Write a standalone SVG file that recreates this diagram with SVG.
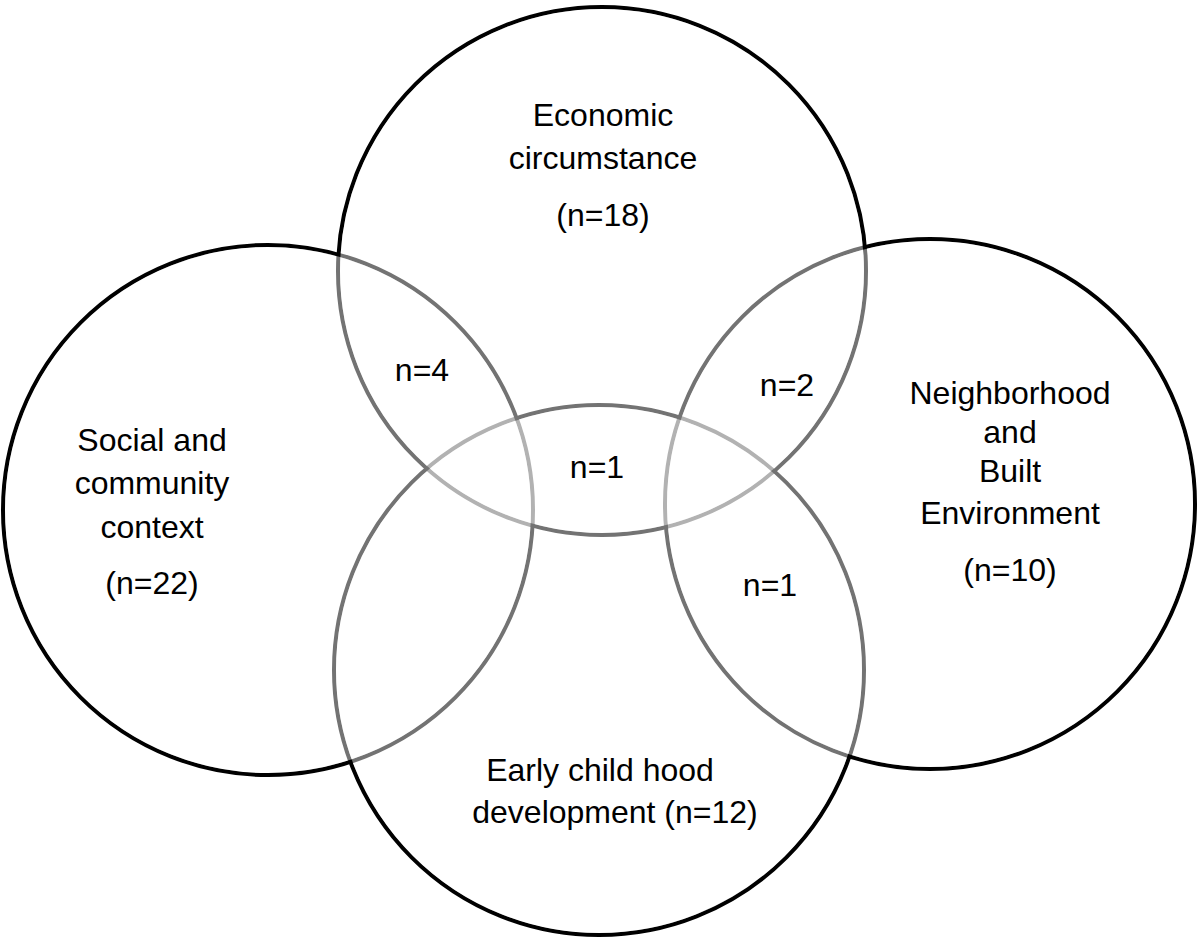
<svg xmlns="http://www.w3.org/2000/svg" width="1200" height="943" viewBox="0 0 1200 943">
<style>
.c{fill:none;stroke:#000;stroke-width:4}
.w{fill:#fff;fill-opacity:0.45;stroke:none}
text{font-family:"Liberation Sans",Arial,sans-serif;font-size:32px;fill:#000;text-anchor:middle}
</style>
<rect width="1200" height="943" fill="#fff"/>
<g id="connectors"></g>
<g id="strokes">
<circle class="c" cx="602" cy="271" r="264"/>
<circle class="c" cx="268" cy="510" r="265"/>
<circle class="c" cx="930" cy="504" r="265"/>
<circle class="c" cx="599" cy="670" r="265"/>
</g>
<g id="overlays">
<circle class="w" cx="602" cy="271" r="262"/>
<circle class="w" cx="268" cy="510" r="263"/>
<circle class="w" cx="930" cy="504" r="263"/>
<circle class="w" cx="599" cy="670" r="263"/>
</g>
<g id="economic"><text x="603" y="126">Economic</text><text x="603" y="169">circumstance</text><text x="603" y="226">(n=18)</text></g>
<g id="social"><text x="152" y="451">Social and</text><text x="152" y="494">community</text><text x="152" y="538">context</text><text x="152" y="594">(n=22)</text></g>
<g id="neighborhood"><text x="1010" y="404">Neighborhood</text><text x="1010" y="443">and</text><text x="1010" y="482">Built</text><text x="1010" y="524">Environment</text><text x="1010" y="581">(n=10)</text></g>
<g id="early"><text x="600" y="781">Early child hood</text><text x="615" y="823">development (n=12)</text></g>
<g id="overlaps"><text x="422" y="381">n=4</text><text x="787" y="396">n=2</text><text x="597" y="478">n=1</text><text x="770" y="596">n=1</text></g>
</svg>
